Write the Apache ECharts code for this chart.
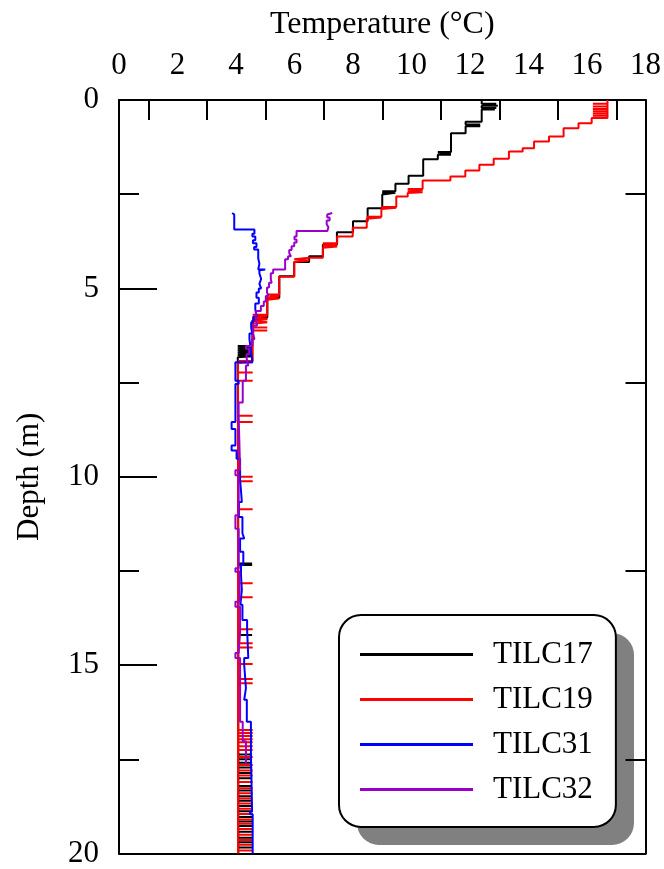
<!DOCTYPE html>
<html><head><meta charset="utf-8">
<script src="https://cdn.jsdelivr.net/npm/echarts@6/dist/echarts.min.js"></script>
<style>html,body{margin:0;padding:0;background:#fff}#c{width:664px;height:869px}</style>
</head><body><div id="c"></div>
<script>
const seriesNames = ['TILC17', 'TILC19', 'TILC31', 'TILC32'];
const tempTickLabels = ['0','2','4','6','8','10','12','14','16','18'];
const depthTickLabels = ['0','5','10','15','20'];

// [temperature (°C), depth (m)] — each point starts a constant-temperature interval
const tilc17 = [
 [12.4,0],[12.9,0.1],[12.4,0.1],[12.95,0.15],[12.4,0.15],[12.9,0.21],[12.4,0.21],[12.85,0.25],[12.4,0.25],
 [11.85,0.58],[12.35,0.65],[11.85,0.65],[12.35,0.7],[11.85,0.7],
 [11.35,0.88],
 [10.9,1.38],[11.35,1.41],[10.9,1.41],[11.35,1.45],[10.9,1.45],
 [10.4,1.57],[9.9,2.01],
 [9.45,2.22],[9.0,2.42],[9.45,2.42],[9.0,2.46],[9.45,2.46],
 [9.0,2.51],[8.5,2.87],[8.0,3.22],[7.45,3.51],[6.97,3.84],[6.5,4.15],[5.99,4.3],[5.48,4.68],[5.07,5.25],
 [4.56,5.77],[5.07,5.77],[4.56,5.8],[5.07,5.8],[4.56,5.85],
 [4.06,6.53],[4.56,6.56],[4.06,6.59],[4.56,6.62],[4.06,6.65],[4.56,6.68],[4.06,6.71],[4.56,6.74],[4.06,6.77],[4.56,6.8],[4.06,6.83],
 [4.08,6.86],
 [4.55,12.3],[4.08,12.3],[4.55,12.34],[4.08,12.34],
 [4.55,14.2],[4.08,14.2],
 [4.55,17.37],[4.08,17.37],[4.55,17.5],[4.08,17.5],[4.55,17.59],[4.08,17.59],[4.55,17.72],[4.08,17.72],
 [4.55,17.86],[4.08,17.86],[4.55,18.0],[4.08,18.0],[4.55,18.21],[4.08,18.21],[4.55,18.33],[4.08,18.33],
 [4.55,18.48],[4.08,18.48],[4.55,18.6],[4.08,18.6],[4.55,18.74],[4.08,18.74],[4.55,18.88],[4.08,18.88],
 [4.55,19.03],[4.08,19.03],[4.55,19.15],[4.08,19.15],[4.55,19.27],[4.08,19.27],[4.55,19.42],[4.08,19.42],
 [4.55,19.58],[4.08,19.58],[4.55,19.7],[4.08,19.7],[4.55,19.84],[4.08,19.84],
 [4.08,20]
];
const tilc19 = [
 [16.7,0],[16.2,0.1],[16.7,0.1],[16.2,0.17],[16.7,0.17],[16.2,0.24],[16.7,0.24],[16.2,0.3],[16.7,0.3],[16.2,0.36],[16.7,0.36],[16.2,0.42],[16.7,0.42],
 [16.16,0.48],[15.71,0.62],[15.2,0.75],[14.7,0.97],[14.19,1.1],[13.8,1.28],[13.33,1.37],[12.81,1.56],[12.32,1.72],[11.84,1.87],[11.33,2.03],[10.38,2.14],
 [9.87,2.36],[10.38,2.39],[9.87,2.42],[10.38,2.45],[9.87,2.47],
 [9.48,2.56],
 [8.97,2.84],[9.48,2.86],[8.97,2.89],
 [8.47,3.1],[8.97,3.12],[8.47,3.15],
 [7.99,3.39],[7.46,3.62],
 [6.97,3.8],[7.46,3.83],[6.97,3.86],[7.46,3.89],[6.97,3.92],
 [6.5,4.19],[5.99,4.23],[6.5,4.26],[5.99,4.3],
 [5.48,4.69],
 [5.07,5.16],[5.48,5.2],[5.07,5.24],[5.48,5.27],[5.07,5.3],
 [4.57,5.7],[5.07,5.74],[4.57,5.78],[5.07,5.82],[4.57,5.86],[5.07,5.9],[4.57,5.94],[5.07,6.04],[4.57,6.04],[5.07,6.12],[4.57,6.12],
 [4.07,6.93],[4.57,6.96],[4.07,6.98],
 [4.57,7.23],[4.07,7.23],[4.57,7.45],[4.07,7.45],[4.57,8.38],[4.07,8.38],[4.57,8.55],[4.07,8.55],
 [4.57,10.0],[4.07,10.0],[4.57,10.12],[4.07,10.12],[4.57,10.86],[4.07,10.86],[4.57,12.83],[4.07,12.83],
 [4.57,13.2],[4.07,13.2],[4.57,14.05],[4.07,14.05],[4.57,14.42],[4.07,14.42],[4.57,14.53],[4.07,14.53],
 [4.57,14.97],[4.07,14.97],[4.57,15.37],[4.07,15.37],[4.57,15.48],[4.07,15.48],
 [4.57,16.72],[4.07,16.72],[4.57,16.8],[4.07,16.8],[4.57,16.88],[4.07,16.88],[4.57,16.97],[4.07,16.97],
 [4.57,17.05],[4.07,17.05],[4.57,17.15],[4.07,17.15],[4.57,17.25],[4.07,17.25],
 [4.57,17.44],[4.07,17.44],[4.57,17.65],[4.07,17.65],[4.57,17.8],[4.07,17.8],[4.57,17.93],[4.07,17.93],
 [4.57,18.1],[4.07,18.1],[4.57,18.27],[4.07,18.27],[4.57,18.4],[4.07,18.4],[4.57,18.54],[4.07,18.54],
 [4.57,18.67],[4.07,18.67],[4.57,18.81],[4.07,18.81],[4.57,18.95],[4.07,18.95],[4.57,19.1],[4.07,19.1],
 [4.57,19.21],[4.07,19.21],[4.57,19.35],[4.07,19.35],[4.57,19.5],[4.07,19.5],[4.57,19.64],[4.07,19.64],
 [4.57,19.77],[4.07,19.77],[4.57,19.92],[4.07,19.92],
 [4.07,20]
];
const tilc31 = [
 [3.87,3.0],[3.94,3.04],[4.63,3.44],[4.56,3.55],[4.66,3.62],[4.58,3.72],[4.7,3.8],[4.62,3.9],[4.76,3.97],
 [4.8,4.2],[4.76,4.35],[5.0,4.5],[4.8,4.52],[4.86,4.6],[4.8,4.75],[4.86,4.88],[4.78,5.0],[4.7,5.11],
 [4.78,5.25],[4.66,5.4],[4.71,5.56],[4.6,5.75],[4.52,5.9],[4.56,6.05],[4.46,6.2],[4.5,6.35],[4.56,6.6],
 [3.98,6.96],[4.09,7.45],[3.98,7.54],[3.85,8.55],[3.98,8.73],[3.85,9.17],[4.02,9.3],[4.14,9.52],
 [4.17,10.1],[4.2,10.36],[4.1,10.67],[4.22,11.07],[4.28,11.5],[4.14,11.64],[4.25,11.99],[4.17,12.34],
 [4.2,12.6],[4.15,13.0],[4.22,13.4],[4.38,13.8],[4.42,14.06],[4.28,14.81],[4.34,14.99],[4.28,15.61],
 [4.37,15.92],[4.51,16.5],[4.55,17.38],[4.48,18.89],[4.57,18.96],[4.57,20]
];
const tilc32 = [
 [7.29,3.0],[7.12,3.04],[7.2,3.12],[7.1,3.2],[7.16,3.3],[7.12,3.38],[6.07,3.48],[6.0,3.62],[6.07,3.7],
 [5.99,3.78],[5.9,3.88],[5.82,3.98],[5.88,4.06],[5.78,4.15],[5.68,4.23],[5.27,4.5],[5.19,4.6],[5.22,4.76],
 [5.13,4.85],[5.06,4.98],[5.1,5.1],[5.02,5.2],[4.95,5.35],[4.85,5.47],[4.68,5.6],[4.72,5.8],[4.59,5.99],
 [4.63,6.2],[4.55,6.35],[4.34,6.53],[4.45,6.6],[4.36,6.75],[4.42,6.85],[4.34,7.05],[4.23,7.45],
 [4.09,8.03],[4.14,8.33],[3.98,9.83],[4.09,9.96],[3.98,11.02],[4.09,11.38],[3.98,12.43],[4.12,12.52],
 [3.98,13.32],[4.14,13.45],[4.09,14.11],[3.98,14.68],[4.14,14.81],[4.23,16.5],[4.34,17.02],[4.34,17.64]
];

const FONT = 'Liberation Serif';
const chart = echarts.init(document.getElementById('c'), null, {renderer: 'canvas'});
const lineW = 2;
function mk(name, data, color) {
  return {
    name, type: 'line', data, step: 'start', showSymbol: false, symbol: 'none',
    xAxisIndex: 0, yAxisIndex: 0, color,
    lineStyle: {color, width: lineW}, itemStyle: {color}, animation: false
  };
}
chart.setOption({
  animation: false,
  textStyle: {fontFamily: FONT},
  grid: {left: 119, right: 16, top: 100, bottom: 13},
  graphic: [{
    type: 'rect', z: 0, silent: true,
    shape: {x: 357, y: 633, width: 277, height: 212, r: 22},
    style: {fill: '#808080'}
  }],
  xAxis: [{
    type: 'value', position: 'top', min: 0, max: 18, interval: 2,
    name: 'Temperature (°C)', nameLocation: 'middle', nameGap: 59,
    nameTextStyle: {fontFamily: FONT, fontSize: 32, color: '#000'},
    axisLine: {show: true, onZero: false, lineStyle: {color: '#000', width: 2}},
    axisTick: {show: false, inside: true},
    minorTick: {show: true, splitNumber: 2, length: 20, lineStyle: {color: '#000', width: 2}},
    splitLine: {show: false}, minorSplitLine: {show: false},
    axisLabel: {fontFamily: FONT, fontSize: 31, color: '#000', margin: 19,
      formatter: v => tempTickLabels[Math.round(v / 2)]}
  }, {
    type: 'value', position: 'bottom', min: 0, max: 18, interval: 2,
    axisLine: {show: true, onZero: false, lineStyle: {color: '#000', width: 2}},
    axisTick: {show: false}, axisLabel: {show: false}, splitLine: {show: false}
  }],
  yAxis: [{
    type: 'value', position: 'left', inverse: true, min: 0, max: 20, interval: 5,
    name: 'Depth (m)', nameLocation: 'middle', nameGap: 74,
    nameTextStyle: {fontFamily: FONT, fontSize: 31, color: '#000'},
    axisLine: {show: true, onZero: false, lineStyle: {color: '#000', width: 2}},
    axisTick: {show: true, inside: true, length: 38, lineStyle: {color: '#000', width: 2}},
    minorTick: {show: true, splitNumber: 2, length: 20, lineStyle: {color: '#000', width: 2}},
    splitLine: {show: false}, minorSplitLine: {show: false},
    axisLabel: {fontFamily: FONT, fontSize: 31, color: '#000', margin: 20, padding: [6, 0, 0, 0],
      formatter: v => depthTickLabels[Math.round(v / 5)]}
  }, {
    type: 'value', position: 'right', inverse: true, min: 0, max: 20, interval: 5,
    axisLine: {show: true, onZero: false, lineStyle: {color: '#000', width: 2}},
    axisTick: {show: false, inside: true},
    minorTick: {show: true, splitNumber: 2, length: 20, lineStyle: {color: '#000', width: 2}},
    axisLabel: {show: false}, splitLine: {show: false}, minorSplitLine: {show: false}
  }],
  legend: {
    data: seriesNames, orient: 'vertical', left: 339, top: 615,
    icon: 'rect', itemWidth: 113, itemHeight: 3, itemGap: 14,
    padding: [24, 23, 22, 21],
    backgroundColor: '#fff', borderColor: '#000', borderWidth: 2, borderRadius: 22,
    textStyle: {fontFamily: FONT, fontSize: 31, color: '#000', lineHeight: 31, padding: [0, 0, 0, 15]}
  },
  series: [
    mk(seriesNames[0], tilc17, '#000000'),
    mk(seriesNames[1], tilc19, '#ff0000'),
    mk(seriesNames[2], tilc31, '#0000ff'),
    mk(seriesNames[3], tilc32, '#9900cc')
  ]
});
</script></body></html>
